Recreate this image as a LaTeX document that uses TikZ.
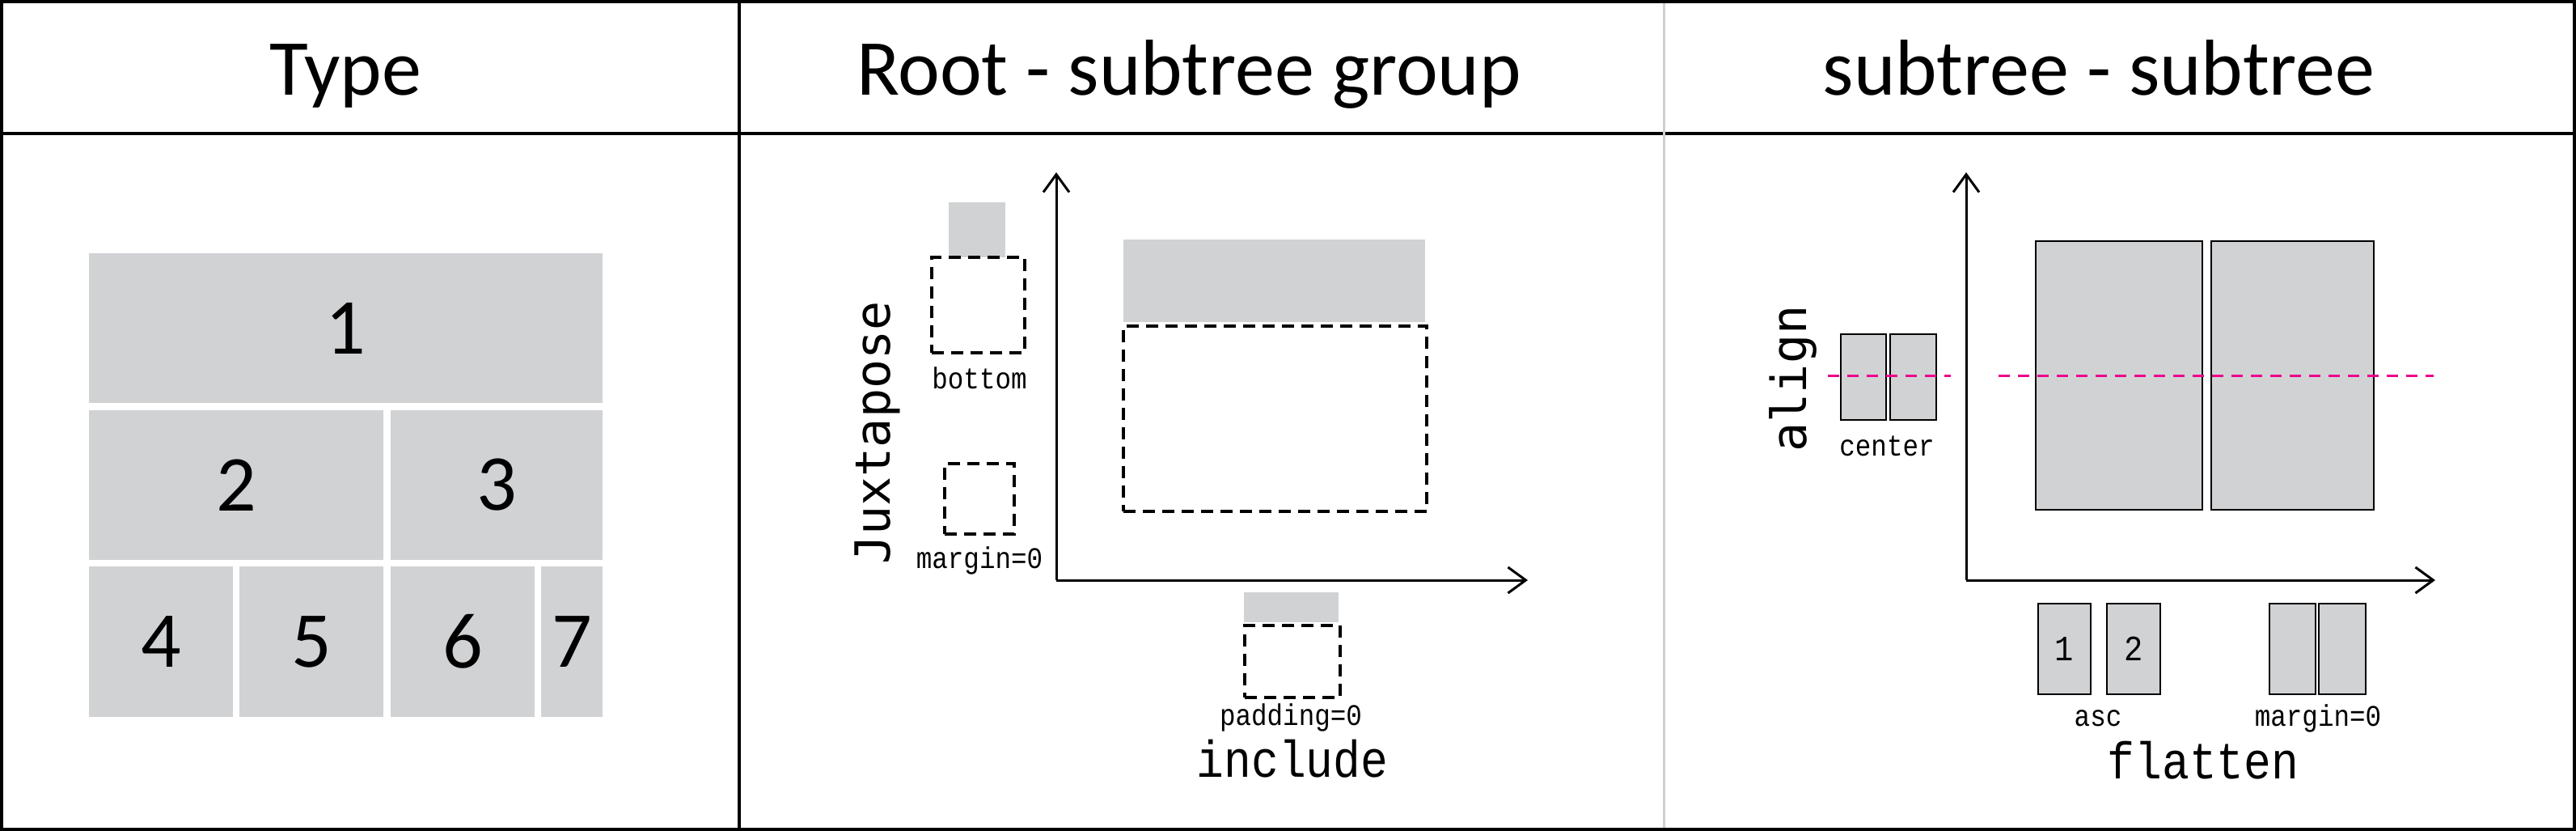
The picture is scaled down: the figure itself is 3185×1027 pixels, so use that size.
\documentclass[tikz,border=0pt]{standalone}
\usepackage{fontspec}
\setmainfont{Carlito}
\newfontfamily\labfont[FakeStretch=0.88]{Liberation Mono}
\newfontfamily\axfont{DejaVu Sans Mono}
\usetikzlibrary{arrows.meta}
\definecolor{boxgray}{RGB}{209,210,212}
\definecolor{guidecol}{RGB}{236,0,140}
\definecolor{seprule}{RGB}{208,208,208}
\begin{document}
\begin{tikzpicture}[x=1pt,y=-1pt,
  head/.style={font=\fontsize{98}{110}\selectfont, anchor=base, inner sep=0pt},
  tbox/.style={fill=boxgray, inner sep=0pt, font=\fontsize{98}{110}\selectfont},
  dbox/.style={draw, line width=3.5pt, dash pattern=on 15pt off 9pt, inner sep=0pt},
  gbox/.style={fill=boxgray, inner sep=0pt},
  sbox/.style={fill=boxgray, draw=black, line width=2pt, inner sep=0pt},
  small/.style={font=\labfont\fontsize{37}{40}\selectfont, anchor=base, inner sep=0pt},
  biglab/.style={font=\labfont\fontsize{64}{68}\selectfont, anchor=base, inner sep=0pt},
  axlab/.style={font=\axfont\fontsize{60}{64}\selectfont, anchor=base, inner sep=0pt, rotate=90},
  axis/.style={line width=3pt, -{Straight Barb[length=22pt,width=32pt]}},
  guideline/.style={draw=guidecol, line width=3pt, dash pattern=on 14pt off 10pt}]
\useasboundingbox (0,0) rectangle (3185,1027);
\fill[white] (0,0) rectangle (3185,1027);

% headers
\node[head] (h1) at (427,118) {Type};
\node[head] (h2) at (1470,118) {Root - subtree group};
\node[head] (h3) at (2595,118) {subtree - subtree};

% panel 1
\node[tbox, minimum width=635pt, minimum height=185pt] (t1) at (427.5,405.5) {1};
\node[tbox, minimum width=364pt, minimum height=185pt] (t2) at (292,599.5) {2};
\node[tbox, minimum width=262pt, minimum height=185pt] (t3) at (614,599.5) {3};
\node[tbox, minimum width=178pt, minimum height=186pt] (t4) at (199,793) {4};
\node[tbox, minimum width=178pt, minimum height=186pt] (t5) at (385,793) {5};
\node[tbox, minimum width=178pt, minimum height=186pt] (t6) at (572,793) {6};
\node[tbox, minimum width=76pt, minimum height=186pt] (t7) at (707,793) {7};

% panel 2
\coordinate (o2) at (1306,717);
\coordinate (y2) at (1306,213);
\coordinate (x2) at (1889,717);
\draw[axis] (o2) -- (y2);
\draw[axis] (o2) -- (x2);
\node[gbox, minimum width=70pt, minimum height=68pt] (bg) at (1208,284) {};
\node[dbox, minimum width=115pt, minimum height=118pt] (bd) at (1209.5,377) {};
\node[small] (lb) at (1211,480) {bottom};
\node[dbox, minimum width=86pt, minimum height=87pt] (md) at (1211,616.5) {};
\node[small] (lm) at (1211,702) {margin=0};
\node[gbox, minimum width=373pt, minimum height=102pt] (rg) at (1575.5,347) {};
\node[dbox, minimum width=375pt, minimum height=229pt] (rd) at (1576.5,517.5) {};
\node[gbox, minimum width=117pt, minimum height=37pt] (pg) at (1596.5,750.5) {};
\node[dbox, minimum width=118pt, minimum height=89pt] (pd) at (1598,817.5) {};
\node[small] (lp) at (1596,896) {padding=0};
\node[biglab] (inc) at (1598,960) {include};
\node[axlab] (jux) at (1100,535) {Juxtapose};

% panel 3
\coordinate (o3) at (2431,717);
\coordinate (y3) at (2431,213);
\coordinate (x3) at (3011,717);
\draw[axis] (o3) -- (y3);
\draw[axis] (o3) -- (x3);
\node[sbox, minimum width=206pt, minimum height=332pt] (b1) at (2620,464) {};
\node[sbox, minimum width=201pt, minimum height=332pt] (b2) at (2834.5,464) {};
\node[sbox, minimum width=56pt, minimum height=106pt] (c1) at (2304,466) {};
\node[sbox, minimum width=57pt, minimum height=106pt] (c2) at (2365.5,466) {};
\coordinate (g1a) at (2260,464);
\coordinate (g1b) at (2412,464);
\coordinate (g2a) at (2471,464);
\coordinate (g2b) at (3009,464);
\draw[guideline] (g1a) -- (g1b);
\draw[guideline] (g2a) -- (g2b);
\node[small] (lc) at (2333,563) {center};
\node[axlab] (ali) at (2233,468) {align};
\node[sbox, minimum width=65pt, minimum height=112pt, font=\labfont\fontsize{44}{48}\selectfont] (f1) at (2552.5,802) {1};
\node[sbox, minimum width=66pt, minimum height=112pt, font=\labfont\fontsize{44}{48}\selectfont] (f2) at (2638,802) {2};
\node[sbox, minimum width=57pt, minimum height=112pt] (m1) at (2834.5,802) {};
\node[sbox, minimum width=58pt, minimum height=112pt] (m2) at (2896,802) {};
\node[small] (la) at (2594,897) {asc};
\node[small] (lm3) at (2866,897) {margin=0};
\node[biglab] (fla) at (2724,962) {flatten};

% table rules
\draw[line width=3.5pt] (0,165) -- (3185,165);
\draw[line width=3.5pt] (914,0) -- (914,1027);
\draw[seprule, line width=3pt] (2057,0) -- (2057,1027);
\draw[line width=4pt] (2,2) rectangle (3183,1025);
\end{tikzpicture}
\end{document}
